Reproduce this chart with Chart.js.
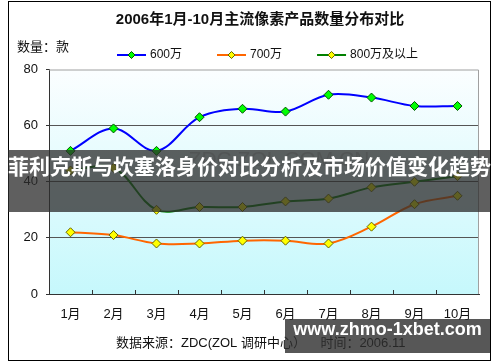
<!DOCTYPE html>
<html lang="zh">
<head>
    <meta charset="UTF-8">
    <title>2006年1月-10月主流像素产品数量分布对比</title>
    <style>
        body {
            margin: 0;
            padding: 0;
            background: #ffffff;
        }
        .wrap {
            position: relative;
            width: 500px;
            height: 362px;
            overflow: hidden;
        }
        .banner {
            position: absolute;
            left: 8px;
            top: 150px;
            width: 482px;
            height: 62px;
            line-height: 62px;
            background: rgba(45, 45, 45, 0.76);
            color: #ffffff;
            font: bold 21px "Noto Sans CJK SC", sans-serif;
            text-align: center;
            white-space: nowrap;
        }
        .site {
            position: absolute;
            left: 285px;
            top: 319px;
            width: 205px;
            height: 34px;
            line-height: 34px;
            background: rgba(45, 45, 45, 0.8);
            color: #ffffff;
            font: bold 18px "Liberation Sans", Arial, sans-serif;
            text-align: center;
        }
    </style>
</head>
<body>
    <div class="wrap">
        <canvas id="chart" width="500" height="362"></canvas>
        <div class="banner">菲利克斯与坎塞洛身价对比分析及市场价值变化趋势</div>
        <div class="site">www.zhmo-1xbet.com</div>
    </div>

    <script src="https://cdn.jsdelivr.net/npm/chart.js"></script>
    <script>
        // values (款)
        const months = ['1月', '2月', '3月', '4月', '5月', '6月', '7月', '8月', '9月', '10月'];
        const px600 = [51, 59, 51, 63, 66, 65, 71, 70, 67, 67];
        const px700 = [22, 21, 18, 18, 19, 19, 18, 24, 32, 35];
        const px800 = [44, 45, 30, 31, 31, 33, 34, 38, 40, 42];
        const chartTitle = '2006年1月-10月主流像素产品数量分布对比';

        const FONT = '"Liberation Sans", Arial, "Noto Sans CJK SC", sans-serif';

        // frame, plot background, title, hand-made legend and notes
        const decor = {
            id: 'decor',
            beforeDraw(chart) {
                const ctx = chart.ctx;
                const a = chart.chartArea;
                ctx.save();
                ctx.fillStyle = '#ffffff';
                ctx.fillRect(0, 0, chart.width, chart.height);
                ctx.strokeStyle = '#000000';
                ctx.lineWidth = 1;
                ctx.strokeRect(8.5, 1.5, 482, 359);
                const g = ctx.createLinearGradient(0, a.top, 0, a.bottom);
                g.addColorStop(0, '#fbfeff');
                g.addColorStop(1, '#c6f8fc');
                ctx.fillStyle = g;
                ctx.fillRect(a.left, a.top, a.right - a.left, a.bottom - a.top);
                ctx.restore();
            },
            beforeDatasetsDraw(chart) {
                const ctx = chart.ctx;
                ctx.save();
                ctx.fillStyle = 'rgba(150, 150, 150, 0.4)';
                ctx.font = '21px ' + FONT;
                ctx.textAlign = 'center';
                ctx.textBaseline = 'middle';
                ctx.fillText('ZDC.ZOL.COM.CN', 279, 160);
                ctx.restore();
            },
            afterDatasetsDraw(chart) {
                const ctx = chart.ctx;
                const a = chart.chartArea;
                const x = chart.scales.x;
                ctx.save();
                // top / right border of the plot
                ctx.strokeStyle = '#a0a0a0';
                ctx.lineWidth = 1;
                ctx.beginPath();
                ctx.moveTo(a.left, a.top + 0.5);
                ctx.lineTo(a.right - 0.5, a.top + 0.5);
                ctx.lineTo(a.right - 0.5, a.bottom);
                ctx.stroke();
                // small inner tick marks between months
                ctx.strokeStyle = '#333333';
                ctx.beginPath();
                for (let i = 1; i < months.length; i++) {
                    const tx = Math.round((x.getPixelForValue(i - 1) + x.getPixelForValue(i)) / 2) + 0.5;
                    ctx.moveTo(tx, a.bottom);
                    ctx.lineTo(tx, a.bottom - 4);
                }
                ctx.stroke();
                ctx.restore();
            },
            afterDraw(chart) {
                const ctx = chart.ctx;
                ctx.save();
                ctx.fillStyle = '#111111';
                ctx.textBaseline = 'middle';
                ctx.textAlign = 'center';
                ctx.font = 'bold 15px ' + FONT;
                ctx.fillText(chartTitle, 260, 20);

                ctx.textAlign = 'left';
                ctx.font = '13px ' + FONT;
                ctx.fillText('数量：款', 17, 47);
                ctx.fillText('数据来源：ZDC(ZOL 调研中心）    时间：2006.11', 116, 343);

                // legend: line with a diamond in the middle
                ctx.font = '12px ' + FONT;
                let lx = 117;
                const ly = 55;
                chart.data.datasets.forEach(ds => {
                    ctx.strokeStyle = ds.borderColor;
                    ctx.lineWidth = 2;
                    ctx.beginPath();
                    ctx.moveTo(lx, ly);
                    ctx.lineTo(lx + 29, ly);
                    ctx.stroke();
                    const cx = lx + 14.5;
                    ctx.beginPath();
                    ctx.moveTo(cx, ly - 3.5);
                    ctx.lineTo(cx + 3.5, ly);
                    ctx.lineTo(cx, ly + 3.5);
                    ctx.lineTo(cx - 3.5, ly);
                    ctx.closePath();
                    ctx.fillStyle = ds.pointBackgroundColor;
                    ctx.fill();
                    ctx.lineWidth = 1;
                    ctx.strokeStyle = ds.pointBorderColor;
                    ctx.stroke();
                    ctx.fillStyle = '#111111';
                    ctx.fillText(ds.label, lx + 33, ly);
                    lx += 33 + ctx.measureText(ds.label).width + 35;
                });
                ctx.restore();
            }
        };

        const ctx = document.getElementById('chart').getContext('2d');
        const chart = new Chart(ctx, {
            type: 'line',
            data: {
                labels: months,
                datasets: [
                    {
                        label: '600万',
                        data: px600,
                        borderColor: '#0000ff',
                        pointBackgroundColor: '#00ff00',
                        pointBorderColor: '#005500'
                    },
                    {
                        label: '700万',
                        data: px700,
                        borderColor: '#ff6600',
                        pointBackgroundColor: '#ffff00',
                        pointBorderColor: '#666600'
                    },
                    {
                        label: '800万及以上',
                        data: px800,
                        borderColor: '#008000',
                        pointBackgroundColor: '#ffff00',
                        pointBorderColor: '#666600'
                    }
                ]
            },
            options: {
                responsive: false,
                animation: false,
                devicePixelRatio: 1,
                layout: { padding: { left: 0, right: 21, top: 69.5, bottom: 0 } },
                elements: {
                    line: { borderWidth: 2, tension: 0.35 },
                    point: { pointStyle: 'rectRot', radius: 4.5, borderWidth: 1 }
                },
                plugins: {
                    legend: { display: false },
                    tooltip: { enabled: false },
                    title: { display: false }
                },
                scales: {
                    x: {
                        offset: true,
                        afterFit: s => { s.height = 68; },
                        grid: { display: false },
                        border: { display: true, color: '#333333', width: 1 },
                        ticks: {
                            color: '#111111',
                            padding: 5,
                            maxRotation: 0,
                            font: { family: FONT, size: 13 }
                        }
                    },
                    y: {
                        min: 0,
                        max: 80,
                        afterFit: s => { s.width = 49; },
                        border: { display: true, color: '#333333', width: 1 },
                        grid: {
                            color: c => (c.tick.value === 0 || c.tick.value === 80) ? 'rgba(0,0,0,0)' : '#555555',
                            borderDash: [3, 3],
                            tickLength: 3,
                            tickColor: '#333333',
                            tickBorderDash: []
                        },
                        ticks: {
                            stepSize: 20,
                            color: '#111111',
                            padding: 8,
                            font: { family: FONT, size: 13 }
                        }
                    }
                }
            },
            plugins: [decor]
        });
    </script>
</body>
</html>
